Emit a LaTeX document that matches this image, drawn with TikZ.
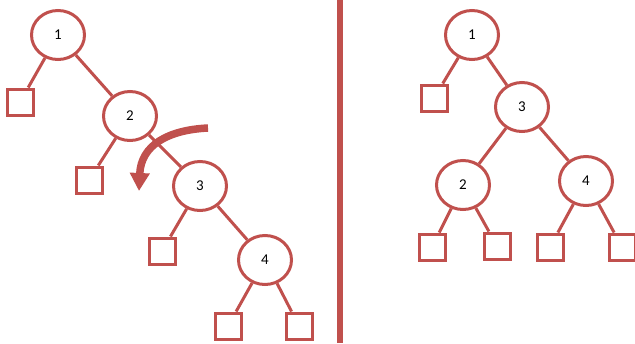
\documentclass[tikz,border=0pt]{standalone}
\usepackage{fontspec}
\setmainfont{Carlito}
\usepackage{tikz}
\usetikzlibrary{
  arrows.meta,
  shapes.geometric
}
\definecolor{TreeRed}{HTML}{C0504D}

\tikzset{
  keynode/.style={ellipse,draw=TreeRed,line width=3pt,minimum width=53pt,
                  minimum height=49pt,inner sep=0pt,font=\fontsize{15}{17}\selectfont},
  leafbox/.style={rectangle,draw=TreeRed,line width=3pt,minimum size=26pt,inner sep=0pt},
  link/.style={draw=TreeRed,line width=3pt}
}

\begin{document}
\begin{tikzpicture}[x=1pt,y=-1pt]
  \useasboundingbox (0,0) rectangle (635,343);
  % left tree, before the rotation
  \node[keynode] (l1) at (58,35) {1};
  \node[keynode] (l2) at (130,116) {2};
  \node[keynode] (l3) at (200,186) {3};
  \node[keynode] (l4) at (265,260) {4};
  \node[leafbox] (la) at (20,102) {};
  \node[leafbox] (lb) at (89,180) {};
  \node[leafbox] (lc) at (162,251) {};
  \node[leafbox] (ld) at (228,326) {};
  \node[leafbox] (le) at (299,326) {};
  \draw[link] (l1) -- (la) (l1) -- (l2) (l2) -- (lb) (l2) -- (l3)
              (l3) -- (lc) (l3) -- (l4) (l4) -- (ld) (l4) -- (le);
  % rotation arrow
  \coordinate (turnfrom) at (208,128);
  \coordinate (turnto) at (139,191);
  \draw[TreeRed,line width=7.5pt,-{Triangle[width=19pt,length=18pt]}]
    (turnfrom) .. controls (168,130) and (141,145) .. (turnto);
  % divider
  \coordinate (divtop) at (340,0);
  \coordinate (divbot) at (340,343);
  \draw[TreeRed,line width=6pt] (divtop) -- (divbot);
  % right tree, after the rotation
  \node[keynode] (r1) at (472,35) {1};
  \node[keynode] (r3) at (522,107) {3};
  \node[keynode] (r2) at (463,185) {2};
  \node[keynode] (r4) at (586,181) {4};
  \node[leafbox] (ra) at (434,98) {};
  \node[leafbox] (rb) at (432,247) {};
  \node[leafbox] (rc) at (497,246) {};
  \node[leafbox] (rd) at (550,247) {};
  \node[leafbox] (re) at (622,247) {};
  \draw[link] (r1) -- (ra) (r1) -- (r3) (r3) -- (r2) (r3) -- (r4)
              (r2) -- (rb) (r2) -- (rc) (r4) -- (rd) (r4) -- (re);
\end{tikzpicture}
\end{document}
